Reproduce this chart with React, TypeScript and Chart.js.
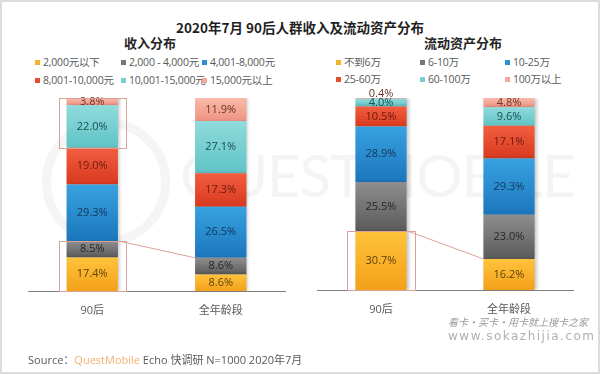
import React, { useEffect, useRef } from "react";
import { Chart, registerables } from "chart.js";

Chart.register(...registerables);

// ---------- data ----------
const TITLE = "2020年7月 90后人群收入及流动资产分布";
const CATEGORIES = ["90后", "全年龄段"];

const INCOME_TITLE = "收入分布";
const INCOME_LABELS = ["2,000元以下", "2,000 - 4,000元", "4,001-8,000元", "8,001-10,000元", "10,001-15,000元", "15,000元以上"];
const INCOME_90 = [17.4, 8.5, 29.3, 19.0, 22.0, 3.8];
const INCOME_ALL = [8.6, 8.6, 26.5, 17.3, 27.1, 11.9];

const ASSET_TITLE = "流动资产分布";
const ASSET_LABELS = ["不到6万", "6-10万", "10-25万", "25-60万", "60-100万", "100万以上"];
const ASSET_90 = [30.7, 25.5, 28.9, 10.5, 4.0, 0.4];
const ASSET_ALL = [16.2, 23.0, 29.3, 17.1, 9.6, 4.8];

// ---------- styles ----------
const COLORS = ["#F9B02A", "#777777", "#2A90D2", "#E84C30", "#7CCFD0", "#F5A898"];
const GRAD = [
  ["#FFC33C", "#F3A01A"],
  ["#8E8E8E", "#5A5A5A"],
  ["#38A2E0", "#1B76BC"],
  ["#F25E40", "#D8391E"],
  ["#90DBDB", "#5FC3C6"],
  ["#F8BAAA", "#F09381"],
];
const LABEL_COLORS = ["#5E4208", "#262626", "#12375A", "#6A190C", "#1B4E50", "#6A3429"];
const CJK = '"Noto Sans CJK SC", "Open Sans", sans-serif';
const NUM = '"Open Sans", "Noto Sans CJK SC", sans-serif';
const BOX_COLOR = "#D9A397";

type Box = { bar: number; from: number; to: number };
type Link = { fromBar: number; fromCum: number; toBar: number; toCum: number };

function cum(series: number[], n: number) {
  let s = 0;
  for (let i = 0; i < n; i++) s += series[i];
  return s;
}

const shadowPlugin = {
  id: "barShadow",
  beforeDatasetsDraw(chart: any) {
    const c = chart.ctx;
    c.save();
    c.shadowColor = "rgba(0,0,0,0.22)";
    c.shadowBlur = 3;
    c.shadowOffsetX = 2;
    c.shadowOffsetY = 0;
  },
  afterDatasetsDraw(chart: any) {
    chart.ctx.restore();
  },
};

const labelPlugin = {
  id: "segLabels",
  afterDatasetsDraw(chart: any) {
    const c = chart.ctx;
    c.save();
    c.font = `11px ${NUM}`;
    c.textAlign = "center";
    c.textBaseline = "middle";
    chart.data.datasets.forEach((ds: any, di: number) => {
      const meta = chart.getDatasetMeta(di);
      meta.data.forEach((el: any, i: number) => {
        const v = ds.data[i] as number;
        let cy = (el.y + el.base) / 2;
        if (v < 1) cy -= 5;
        c.fillStyle = LABEL_COLORS[di];
        c.fillText(v.toFixed(1) + "%", el.x, cy);
      });
    });
    c.restore();
  },
};

function makeAnnotPlugin(series: number[][], boxes: Box[], links: Link[]) {
  return {
    id: "annot",
    afterDraw(chart: any) {
      const c = chart.ctx;
      const y = chart.scales.y;
      const meta = chart.getDatasetMeta(0);
      c.save();
      c.strokeStyle = BOX_COLOR;
      c.lineWidth = 1;
      boxes.forEach((b) => {
        const el = meta.data[b.bar];
        const l = Math.round(el.x - el.width / 2 - 8) + 0.5;
        const r = Math.round(el.x + el.width / 2 + 8) + 0.5;
        const t = Math.round(y.getPixelForValue(cum(series[b.bar], b.to))) + 0.5;
        const bt = Math.round(y.getPixelForValue(cum(series[b.bar], b.from))) + 0.5;
        c.strokeRect(l, t, r - l, bt - t);
      });
      links.forEach((k) => {
        const a = meta.data[k.fromBar];
        const b = meta.data[k.toBar];
        c.beginPath();
        c.moveTo(a.x + a.width / 2 + 1, y.getPixelForValue(cum(series[k.fromBar], k.fromCum)));
        c.lineTo(b.x - b.width / 2, y.getPixelForValue(cum(series[k.toBar], k.toCum)));
        c.stroke();
      });
      c.restore();
    },
  };
}

type StackProps = {
  left: number;
  labels: string[];
  s90: number[];
  sAll: number[];
  padLeft: number;
  padRight: number;
  axisH: number;
  boxes: Box[];
  links: Link[];
};

function StackChart(p: StackProps) {
  const ref = useRef<HTMLCanvasElement | null>(null);
  useEffect(() => {
    if (!ref.current) return;
    const series = [p.s90, p.sAll];
    const datasets = p.labels.map((lab, k) => ({
      label: lab,
      data: [p.s90[k], p.sAll[k]],
      barPercentage: 0.4,
      categoryPercentage: 1,
      borderWidth: 0,
      backgroundColor: (ctx: any) => {
        const chart = ctx.chart;
        if (!chart.chartArea || ctx.type !== "data" || !chart.scales.y) return COLORS[k];
        const ys = chart.scales.y;
        const s = series[ctx.dataIndex];
        const top = ys.getPixelForValue(cum(s, k + 1));
        const bot = ys.getPixelForValue(cum(s, k));
        if (!isFinite(top) || !isFinite(bot) || bot - top < 0.5) return COLORS[k];
        const g = chart.ctx.createLinearGradient(0, top, 0, bot);
        g.addColorStop(0, GRAD[k][0]);
        g.addColorStop(1, GRAD[k][1]);
        return g;
      },
    }));
    const chart = new Chart(ref.current, {
      type: "bar",
      data: { labels: CATEGORIES, datasets },
      options: {
        animation: false,
        responsive: false,
        maintainAspectRatio: false,
        layout: { padding: { left: p.padLeft, right: p.padRight, top: 98, bottom: 0 } },
        plugins: { legend: { display: false }, tooltip: { enabled: false } },
        scales: {
          x: {
            stacked: true,
            grid: { display: false, drawTicks: false },
            border: { display: true, color: "#7F7F7F", width: 1 },
            ticks: { color: "#595959", font: { size: 11, family: NUM }, padding: 13 },
            afterFit: (s: any) => {
              s.height = p.axisH;
            },
          },
          y: { stacked: true, display: false, min: 0, max: 100 },
        },
      } as any,
      plugins: [shadowPlugin, labelPlugin, makeAnnotPlugin(series, p.boxes, p.links)],
    });
    return () => chart.destroy();
  }, []);
  return (
    <canvas
      ref={ref}
      width={300}
      height={375}
      style={{ position: "absolute", left: p.left, top: 0, width: 300, height: 375, display: "block" }}
    />
  );
}

function Legend(props: { labels: string[]; cols: number[]; rows: number[] }) {
  return (
    <>
      {props.labels.map((lab, i) => {
        const x = props.cols[i % 3];
        const y = props.rows[Math.floor(i / 3)];
        return (
          <div
            key={lab}
            style={{
              position: "absolute",
              left: x,
              top: y - 8,
              height: 16,
              lineHeight: "16px",
              fontSize: 10.5,
              letterSpacing: -0.2,
              color: "#595959",
              whiteSpace: "nowrap",
              fontFamily: NUM,
            }}
          >
            <span
              style={{
                display: "inline-block",
                width: 5,
                height: 5,
                background: COLORS[i],
                marginRight: 3,
                verticalAlign: "middle",
                position: "relative",
                top: -1,
              }}
            />
            {lab}
          </div>
        );
      })}
    </>
  );
}

export default function App() {
  return (
    <div
      style={{
        position: "fixed",
        left: 0,
        top: 0,
        width: 600,
        height: 375,
        background: "#FFFFFF",
        overflow: "hidden",
        fontFamily: CJK,
      }}
    >
      {/* frame */}
      <div
        style={{
          position: "absolute",
          left: 0,
          top: 0,
          width: 596,
          height: 370,
          border: "2px solid #DCDCDC",
        }}
      />
      {/* faint watermark */}
      <div
        style={{
          position: "absolute",
          left: 42,
          top: 118,
          width: 110,
          height: 110,
          borderRadius: "50%",
          border: "9px solid #F5F5F5",
        }}
      />
      <div
        style={{
          position: "absolute",
          left: 180,
          top: 140,
          fontSize: 58,
          lineHeight: "70px",
          color: "#F4F4F4",
          fontFamily: "Lato, sans-serif",
          letterSpacing: -1,
          whiteSpace: "nowrap",
        }}
      >
        QUESTMOBILE
      </div>

      <div
        style={{
          position: "absolute",
          left: 0,
          width: 600,
          top: 17,
          textAlign: "center",
          fontSize: 13.5,
          fontWeight: 600,
          color: "#1F1F1F",
          lineHeight: "20px",
        }}
      >
        {TITLE}
      </div>
      <div
        style={{
          position: "absolute",
          left: 100,
          width: 100,
          top: 34,
          textAlign: "center",
          fontSize: 13,
          fontWeight: 700,
          color: "#262626",
          lineHeight: "18px",
        }}
      >
        {INCOME_TITLE}
      </div>
      <div
        style={{
          position: "absolute",
          left: 403,
          width: 120,
          top: 34,
          textAlign: "center",
          fontSize: 13,
          fontWeight: 700,
          color: "#262626",
          lineHeight: "18px",
        }}
      >
        {ASSET_TITLE}
      </div>

      <Legend labels={INCOME_LABELS} cols={[35, 121, 202]} rows={[62, 80]} />
      <Legend labels={ASSET_LABELS} cols={[336, 420, 505]} rows={[62, 79]} />

      <StackChart
        left={0}
        labels={INCOME_LABELS}
        s90={INCOME_90}
        sAll={INCOME_ALL}
        padLeft={28}
        padRight={15}
        axisH={84}
        boxes={[
          { bar: 0, from: 4, to: 6 },
          { bar: 0, from: 0, to: 2 },
        ]}
        links={[{ fromBar: 0, fromCum: 2, toBar: 1, toCum: 2 }]}
      />
      <StackChart
        left={300}
        labels={ASSET_LABELS}
        s90={ASSET_90}
        sAll={ASSET_ALL}
        padLeft={17}
        padRight={27}
        axisH={85}
        boxes={[{ bar: 0, from: 0, to: 1 }]}
        links={[{ fromBar: 0, fromCum: 1, toBar: 1, toCum: 1 }]}
      />

      <div
        style={{
          position: "absolute",
          left: 448,
          top: 314,
          fontSize: 10,
          fontStyle: "italic",
          color: "#9A9A9A",
          whiteSpace: "nowrap",
          fontFamily: CJK,
        }}
      >
        看卡·买卡·用卡就上搜卡之家
      </div>
      <div
        style={{
          position: "absolute",
          left: 448,
          top: 329,
          fontSize: 12,
          letterSpacing: 1.5,
          color: "#B0B0B0",
          whiteSpace: "nowrap",
          fontFamily: "DejaVu Sans, sans-serif",
        }}
      >
        www.sokazhijia.com
      </div>

      <div
        style={{
          position: "absolute",
          left: 28,
          top: 352,
          fontSize: 11,
          lineHeight: "16px",
          color: "#595959",
          whiteSpace: "nowrap",
          fontFamily: NUM,
        }}
      >
        Source：<span style={{ color: "#F3B36E" }}>QuestMobile</span> Echo 快调研 N=1000 2020年7月
      </div>
    </div>
  );
}
